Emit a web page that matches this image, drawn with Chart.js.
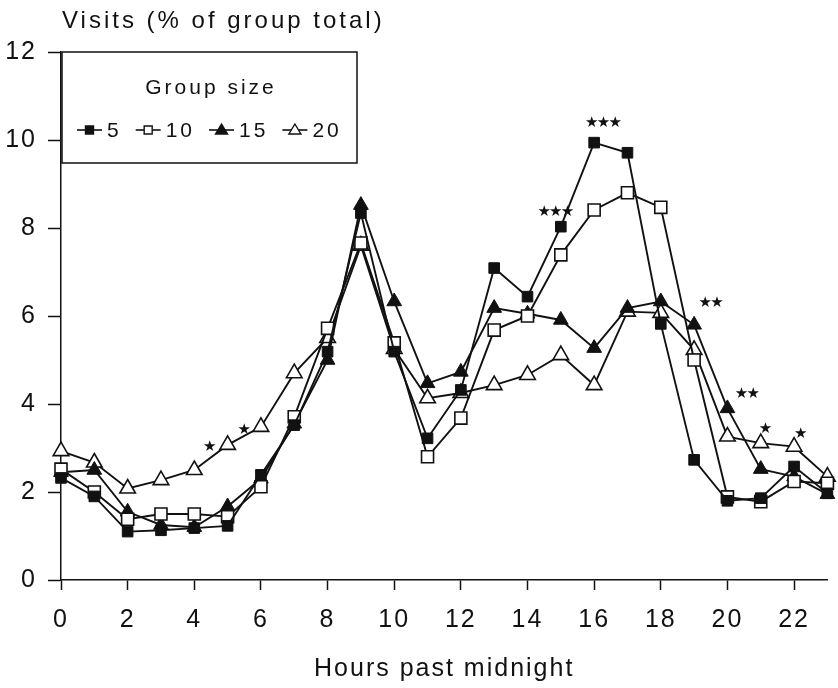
<!DOCTYPE html>
<html>
<head>
<meta charset="utf-8">
<script src="https://cdn.jsdelivr.net/npm/chart.js@4.4.0/dist/chart.umd.min.js"></script>
<style>
    html, body { margin: 0; padding: 0; background: #fff; overflow: hidden; }
    #wrap { width: 838px; height: 688px; }
</style>
</head>
<body>
<div id="wrap"><canvas id="visitsChart"></canvas></div>
<script>
// Horas do dia (eixo x)
const hours = [0, 1, 2, 3, 4, 5, 6, 7, 8, 9, 10, 11, 12, 13, 14, 15, 16, 17, 18, 19, 20, 21, 22, 23];

// Visitas (% do total do grupo) por tamanho de grupo
const size5  = [2.32, 1.90, 1.10, 1.13, 1.18, 1.23, 2.39, 3.52, 5.19, 8.34, 5.19, 3.22, 4.32, 7.09, 6.44, 8.03, 9.94, 9.71, 5.82, 2.73, 1.80, 1.86, 2.58, 1.97];
const size10 = [2.52, 2.00, 1.38, 1.50, 1.50, 1.44, 2.12, 3.71, 5.72, 7.66, 5.39, 2.80, 3.68, 5.68, 6.00, 7.39, 8.41, 8.80, 8.47, 5.00, 1.89, 1.78, 2.24, 2.20];
const size15 = [2.45, 2.50, 1.55, 1.25, 1.20, 1.67, 2.30, 3.55, 5.00, 8.52, 6.33, 4.47, 4.73, 6.18, 6.05, 5.91, 5.27, 6.18, 6.33, 5.80, 3.90, 2.52, 2.35, 1.95];
const size20 = [2.93, 2.67, 2.08, 2.27, 2.50, 3.07, 3.48, 4.70, 5.50, 7.60, 5.25, 4.13, 4.25, 4.43, 4.66, 5.11, 4.43, 6.10, 6.07, 5.23, 3.26, 3.11, 3.03, 2.35];
const groupLabels = ['5', '10', '15', '20'];

// Marcas de significância (asteriscos)
const sigHours  = [4.46, 5.50, 14.85, 16.28, 19.51, 20.60, 21.14, 22.20];
const sigLevels = [3.01, 3.41, 8.36, 10.38, 6.30, 4.22, 3.42, 3.32];
const sigCounts = [1, 1, 3, 3, 2, 2, 1, 1];

const FONT = '"Liberation Sans", Arial, Helvetica, sans-serif';
const INK = '#111';

function pontos(valores) {
    return valores.map((v, i) => ({ x: hours[i], y: v }));
}

function serie(label, valores, estilo, raio, cheio) {
    return {
        label: label,
        data: pontos(valores),
        borderColor: INK,
        borderWidth: 1.9,
        pointStyle: estilo,
        pointRadius: raio,
        pointHoverRadius: raio,
        pointBackgroundColor: cheio ? INK : '#fff',
        pointBorderColor: INK,
        pointBorderWidth: cheio ? 1 : 1.6,
        tension: 0,
        clip: false
    };
}

// Marcador pequeno para a legenda
function marcador(ctx, estilo, cheio, x, y) {
    ctx.save();
    ctx.lineWidth = 1.4;
    ctx.strokeStyle = INK;
    ctx.fillStyle = cheio ? INK : '#fff';
    ctx.beginPath();
    if (estilo === 'rect') {
        ctx.rect(x - 4, y - 4, 8, 8);
    } else {
        ctx.moveTo(x, y - 6);
        ctx.lineTo(x + 6, y + 4);
        ctx.lineTo(x - 6, y + 4);
        ctx.closePath();
    }
    ctx.fill();
    ctx.stroke();
    ctx.restore();
}

const espacamento = {
    id: 'espacamento',
    beforeDraw(chart) {
        chart.ctx.letterSpacing = '2px';
    }
};

const sobreposicao = {
    id: 'sobreposicao',
    afterDraw(chart) {
        const ctx = chart.ctx;
        const xs = chart.scales.x;
        const ys = chart.scales.y;

        // Título do eixo y, no topo
        ctx.save();
        ctx.fillStyle = INK;
        ctx.font = '24px ' + FONT;
        ctx.letterSpacing = '3px';
        ctx.textAlign = 'left';
        ctx.textBaseline = 'alphabetic';
        ctx.fillText('Visits (% of group total)', 62, 28);
        ctx.restore();

        // Caixa da legenda
        const bx = 62, by = 52, bw = 295, bh = 111;
        ctx.save();
        ctx.fillStyle = '#fff';
        ctx.fillRect(bx, by, bw, bh);
        ctx.strokeStyle = INK;
        ctx.lineWidth = 1.5;
        ctx.strokeRect(bx, by, bw, bh);
        ctx.fillStyle = INK;
        ctx.font = '21px ' + FONT;
        ctx.letterSpacing = '3px';
        ctx.textAlign = 'center';
        ctx.textBaseline = 'middle';
        ctx.fillText('Group size', bx + bw / 2 + 1.5, 88);
        ctx.textAlign = 'left';
        let lx = 77;
        const ly = 130;
        chart.data.datasets.forEach((ds, i) => {
            ctx.strokeStyle = INK;
            ctx.lineWidth = 1.6;
            ctx.beginPath();
            ctx.moveTo(lx, ly);
            ctx.lineTo(lx + 25, ly);
            ctx.stroke();
            marcador(ctx, ds.pointStyle, ds.pointBackgroundColor === INK, lx + 12.5, ly);
            ctx.fillStyle = INK;
            ctx.fillText(groupLabels[i], lx + 30, ly + 1);
            lx += 30 + ctx.measureText(groupLabels[i]).width + 14;
        });
        ctx.restore();

        // Asteriscos de significância
        ctx.save();
        ctx.fillStyle = INK;
        ctx.font = '15px "DejaVu Sans"';
        ctx.letterSpacing = '0px';
        ctx.textAlign = 'center';
        ctx.textBaseline = 'middle';
        sigHours.forEach((h, i) => {
            const cx = xs.getPixelForValue(h);
            const cy = ys.getPixelForValue(sigLevels[i]);
            const n = sigCounts[i];
            for (let k = 0; k < n; k++) {
                ctx.fillText('\u2605', cx + (k - (n - 1) / 2) * 11.7, cy);
            }
        });
        ctx.restore();
    }
};

Chart.defaults.font.family = FONT;
Chart.defaults.color = INK;

const ctx = document.getElementById('visitsChart').getContext('2d');
new Chart(ctx, {
    type: 'line',
    data: {
        datasets: [
            serie(groupLabels[0], size5, 'rect', 7.5, true),
            serie(groupLabels[1], size10, 'rect', 8.5, false),
            serie(groupLabels[2], size15, 'triangle', 8.5, true),
            serie(groupLabels[3], size20, 'triangle', 9, false)
        ]
    },
    options: {
        responsive: true,
        maintainAspectRatio: false,
        animation: false,
        layout: {
            padding: { top: 52, left: 0, right: 0, bottom: 0 }
        },
        plugins: {
            legend: { display: false },
            tooltip: { enabled: false }
        },
        scales: {
            x: {
                type: 'linear',
                min: 0,
                max: 23,
                afterFit: (s) => { s.height = 108; },
                ticks: {
                    stepSize: 2,
                    includeBounds: false,
                    padding: 15,
                    color: INK,
                    font: { size: 25 }
                },
                grid: {
                    drawOnChartArea: false,
                    tickLength: 10,
                    tickColor: INK,
                    tickWidth: 1.5
                },
                border: { color: INK, width: 1.5 },
                title: {
                    display: true,
                    text: 'Hours past midnight',
                    color: INK,
                    font: { size: 25 },
                    padding: { top: 0, bottom: 4 }
                }
            },
            y: {
                min: 0,
                max: 12,
                afterFit: (s) => { s.width = 61; },
                ticks: {
                    stepSize: 2,
                    padding: 11,
                    color: INK,
                    font: { size: 25 }
                },
                grid: {
                    drawOnChartArea: false,
                    tickLength: 13,
                    tickColor: INK,
                    tickWidth: 1.5
                },
                border: { color: INK, width: 1.5 }
            }
        }
    },
    plugins: [espacamento, sobreposicao]
});
</script>
</body>
</html>
